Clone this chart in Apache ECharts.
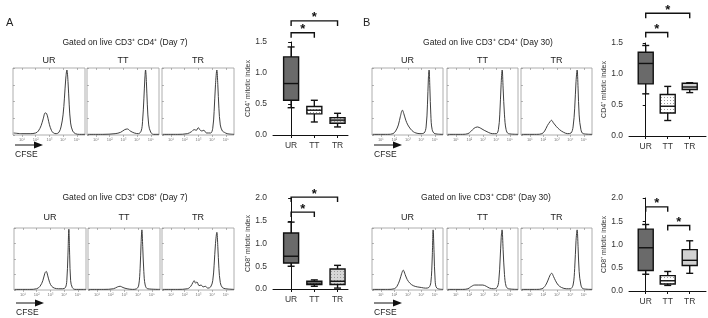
<!DOCTYPE html>
<html>
<head>
<meta charset="utf-8">
<script src="https://cdn.jsdelivr.net/npm/echarts@6/dist/echarts.min.js"></script>
<style>
  html, body { margin: 0; background: #fff; }
  #chart { width: 708px; height: 318px; }
</style>
</head>
<body>
<div id="chart"></div>
<script>
const groups = ['UR', 'TT', 'TR']
const xTicks = [1, 2, 3, 4, 5]

// CFSE histograms: [log10 intensity, % of max]
const d7cd4UR = [[0.4,3],[1.0,2],[1.6,2],[2.0,3],[2.2,6],[2.4,14],[2.55,24],[2.7,33],[2.8,32],[2.9,25],[3.0,16],[3.15,7],[3.3,3],[3.5,2],[3.7,4],[3.85,12],[4.0,30],[4.1,55],[4.2,85],[4.28,97],[4.36,80],[4.45,45],[4.55,18],[4.7,6],[4.9,2],[5.2,1],[5.6,1]]
const d7cd4TT = [[0.4,1],[1.5,1],[2.4,2],[2.8,4],[3.1,8],[3.3,9],[3.5,6],[3.8,3],[4.1,2],[4.3,6],[4.4,20],[4.5,55],[4.57,85],[4.62,97],[4.68,80],[4.75,45],[4.85,15],[5.0,4],[5.2,1],[5.6,1]]
const d7cd4TR = [[0.4,1],[1.5,1],[2.2,2],[2.5,5],[2.7,8],[2.85,7],[3.0,11],[3.1,8],[3.25,6],[3.4,7],[3.6,3],[3.9,3],[4.05,10],[4.15,35],[4.25,75],[4.35,97],[4.42,75],[4.5,40],[4.6,15],[4.75,6],[4.9,4],[5.1,2],[5.6,1]]

const d30cd4UR = [[0.4,1],[1.5,1],[1.9,2],[2.1,6],[2.3,15],[2.45,28],[2.6,37],[2.7,32],[2.85,22],[3.0,15],[3.2,9],[3.4,5],[3.6,3],[3.9,2],[4.2,3],[4.35,12],[4.45,45],[4.52,85],[4.57,97],[4.63,70],[4.7,30],[4.8,8],[5.0,2],[5.6,1]]
const d30cd4TT = [[0.4,1],[1.5,1],[1.9,2],[2.1,5],[2.35,10],[2.6,12],[2.85,10],[3.1,7],[3.4,4],[3.7,2],[4.0,2],[4.15,8],[4.25,30],[4.35,75],[4.43,97],[4.5,70],[4.6,30],[4.72,8],[4.9,2],[5.6,1]]
const d30cd4TR = [[0.4,1],[1.5,1],[1.9,2],[2.1,6],[2.3,14],[2.5,20],[2.6,22],[2.75,18],[2.95,13],[3.2,8],[3.5,4],[3.8,2],[4.05,3],[4.2,12],[4.32,40],[4.42,80],[4.5,97],[4.57,70],[4.65,30],[4.78,8],[4.95,2],[5.6,1]]

const d7cd8UR = [[0.4,1],[1.5,1],[2.0,2],[2.25,6],[2.45,15],[2.6,27],[2.7,30],[2.8,24],[2.95,12],[3.1,6],[3.3,3],[3.6,2],[3.9,2],[4.1,4],[4.2,15],[4.28,55],[4.35,98],[4.41,55],[4.48,15],[4.6,4],[4.8,1],[5.6,1]]
const d7cd8TT = [[0.4,1],[1.5,1],[2.2,2],[2.5,5],[2.7,6],[2.9,4],[3.2,2],[3.6,1],[3.9,2],[4.05,8],[4.15,35],[4.22,75],[4.28,97],[4.34,70],[4.42,30],[4.52,8],[4.7,2],[5.6,1]]
const d7cd8TR = [[0.4,1],[1.5,1],[2.2,2],[2.45,6],[2.6,12],[2.7,15],[2.8,11],[2.9,13],[3.05,7],[3.2,8],[3.35,5],[3.5,6],[3.7,3],[3.9,5],[4.05,15],[4.15,40],[4.25,75],[4.35,93],[4.42,70],[4.5,35],[4.6,12],[4.75,4],[5.0,2],[5.6,1]]

const d30cd8UR = [[0.4,1],[1.5,1],[2.0,2],[2.2,6],[2.4,16],[2.55,27],[2.66,32],[2.8,25],[2.95,17],[3.15,11],[3.4,7],[3.7,5],[4.0,4],[4.3,3],[4.55,4],[4.7,12],[4.8,50],[4.87,97],[4.94,60],[5.02,15],[5.15,3],[5.6,1]]
const d30cd8TT = [[0.4,1],[1.5,1],[1.9,2],[2.1,5],[2.4,8],[2.7,8],[3.0,8],[3.25,6],[3.5,3],[3.8,2],[4.05,4],[4.18,15],[4.28,50],[4.36,85],[4.42,97],[4.5,65],[4.6,25],[4.72,6],[4.9,2],[5.6,1]]
const d30cd8TR = [[0.4,1],[1.5,1],[1.9,2],[2.15,7],[2.35,16],[2.5,24],[2.62,27],[2.75,22],[2.9,15],[3.1,8],[3.35,4],[3.7,2],[4.0,2],[4.2,8],[4.32,35],[4.42,80],[4.5,97],[4.57,70],[4.65,30],[4.78,8],[4.95,2],[5.6,1]]

// mitotic index boxes: [min, Q1, median, Q3, max] for UR, TT, TR
const d7cd4Box = [[0.44,0.56,0.83,1.26,1.42],[0.21,0.34,0.40,0.46,0.56],[0.13,0.19,0.24,0.28,0.35]]
const d30cd4Box = [[0.68,0.84,1.17,1.35,1.46],[0.25,0.37,0.48,0.67,0.80],[0.70,0.75,0.79,0.85,0.86]]
const d7cd8Box = [[0.50,0.57,0.72,1.23,1.47],[0.06,0.10,0.13,0.17,0.20],[0.02,0.10,0.17,0.44,0.52]]
const d30cd8Box = [[0.36,0.44,0.93,1.33,1.43],[0.12,0.15,0.22,0.33,0.42],[0.38,0.55,0.66,0.89,1.08]]

// significance brackets: [from group, to group, height]
const d7cd4Sig = [[0,1,1.65],[0,2,1.84]]
const d30cd4Sig = [[0,1,1.67],[0,2,1.98]]
const d7cd8Sig = [[0,1,1.69],[0,2,2.02]]
const d30cd8Sig = [[0,1,1.81],[1,2,1.41]]

const font = 'Liberation Sans, Arial, sans-serif'
const sup = ['⁰','¹','²','³','⁴','⁵']

function dots(bg, dot) {
  const c = document.createElement('canvas')
  c.width = 3; c.height = 3
  const ctx = c.getContext('2d')
  ctx.fillStyle = bg; ctx.fillRect(0, 0, 3, 3)
  ctx.fillStyle = dot; ctx.fillRect(1, 1, 1, 1)
  return { image: c, repeat: 'repeat' }
}
const darkFill = '#6a6a6a'
const ttFill = dots('#ffffff', '#9a9a9a')
const trFill = dots('#d6d6d6', '#9a9a9a')

const panels = [
  { title: 'Gated on live CD3⁺ CD4⁺ (Day 7)', titleX: 125, titleY: 43, labelY: 61,
    hists: [d7cd4UR, d7cd4TT, d7cd4TR], lefts: [13, 87, 162], hw: 72, top: 68, height: 67,
    box: d7cd4Box, sig: d7cd4Sig, fills: [darkFill, ttFill, trFill],
    bg: { left: 273, top: 42, width: 75, height: 93 }, ymax: 1.5, xr: [-0.78, 2.45], yname: 'CD4⁺ mitotic index', arrowY: 145 },
  { title: 'Gated on live CD3⁺ CD4⁺ (Day 30)', titleX: 488, titleY: 43, labelY: 61,
    hists: [d30cd4UR, d30cd4TT, d30cd4TR], lefts: [372, 447, 521], hw: 71, top: 68, height: 67,
    box: d30cd4Box, sig: d30cd4Sig, fills: [darkFill, ttFill, '#d2d2d2'],
    bg: { left: 629, top: 43, width: 77, height: 93 }, ymax: 1.5, xr: [-0.76, 2.74], yname: 'CD4⁺ mitotic index', arrowY: 145 },
  { title: 'Gated on live CD3⁺ CD8⁺ (Day 7)', titleX: 125, titleY: 198, labelY: 218,
    hists: [d7cd8UR, d7cd8TT, d7cd8TR], lefts: [14, 88, 162], hw: 72, top: 228, height: 62,
    box: d7cd8Box, sig: d7cd8Sig, fills: [darkFill, ttFill, trFill],
    bg: { left: 273, top: 198, width: 75, height: 91 }, ymax: 2, xr: [-0.78, 2.45], yname: 'CD8⁺ mitotic index', arrowY: 303 },
  { title: 'Gated on live CD3⁺ CD8⁺ (Day 30)', titleX: 486, titleY: 198, labelY: 218,
    hists: [d30cd8UR, d30cd8TT, d30cd8TR], lefts: [372, 447, 521], hw: 71, top: 228, height: 62,
    box: d30cd8Box, sig: d30cd8Sig, fills: [darkFill, ttFill, '#d2d2d2'],
    bg: { left: 629, top: 198, width: 77, height: 93 }, ymax: 2, xr: [-0.76, 2.74], yname: 'CD8⁺ mitotic index', arrowY: 303 }
]

const grid = [], xAxis = [], yAxis = [], series = [], graphic = []

function addText(text, x, y, size, extra) {
  graphic.push({ type: 'text', x: x, y: y, silent: true,
    style: Object.assign({ text: text, font: size + 'px ' + font, fill: '#222', textAlign: 'center', textVerticalAlign: 'middle' }, extra || {}) })
}

addText('A', 6, 23, 11, { textAlign: 'left' })
addText('B', 363, 23, 11, { textAlign: 'left' })

panels.forEach((p) => {
  addText(p.title, p.titleX, p.titleY, 8.5)
  const left0 = p.lefts[0]
  // CFSE arrow
  graphic.push({ type: 'line', silent: true, shape: { x1: left0 + 2, y1: p.arrowY, x2: left0 + 23, y2: p.arrowY }, style: { stroke: '#111', lineWidth: 1 } })
  graphic.push({ type: 'polygon', silent: true, shape: { points: [[left0 + 21, p.arrowY - 3.5], [left0 + 30, p.arrowY], [left0 + 21, p.arrowY + 3.5]] }, style: { fill: '#111' } })
  addText('CFSE', left0 + 2, p.arrowY + 10, 8.5, { textAlign: 'left' })

  // histograms
  p.hists.forEach((h, i) => {
    const g = grid.length
    grid.push({ left: p.lefts[i], top: p.top, width: p.hw, height: p.height, show: true, borderColor: '#9a9a9a', borderWidth: 0.8 })
    addText(groups[i], p.lefts[i] + p.hw / 2, p.labelY, 9)
    xAxis.push({ gridIndex: g, type: 'value', min: 0.35, max: 5.6, splitLine: { show: false },
      axisLine: { show: false },
      axisTick: { customValues: xTicks, length: 2, lineStyle: { color: '#888', width: 0.6 } },
      axisLabel: { customValues: xTicks, fontSize: 4, color: '#777', margin: 3, formatter: (v) => '10' + sup[Math.round(v)] } })
    xAxis.push({ gridIndex: g, type: 'value', position: 'top', min: 0.35, max: 5.6, splitLine: { show: false },
      axisLine: { show: false }, axisLabel: { show: false },
      axisTick: { customValues: xTicks, inside: true, length: 2, lineStyle: { color: '#888', width: 0.6 } } })
    yAxis.push({ gridIndex: g, type: 'value', min: 0, max: 100, interval: 25, splitLine: { show: false },
      axisLine: { show: false }, axisLabel: { show: false },
      axisTick: { inside: true, length: 2, lineStyle: { color: '#888', width: 0.6 } } })
    series.push({ type: 'line', xAxisIndex: xAxis.length - 2, yAxisIndex: yAxis.length - 1, data: h,
      smooth: 0.35, symbol: 'none', silent: true, lineStyle: { color: '#2a2a2a', width: 0.9 } })
  })

  // box plot panel
  const g = grid.length
  grid.push(Object.assign({ show: false }, p.bg))
  xAxis.push({ gridIndex: g, type: 'value', min: p.xr[0], max: p.xr[1], splitLine: { show: false },
    axisLine: { lineStyle: { color: '#111', width: 1 } },
    axisTick: { customValues: [0, 1, 2], length: 3, lineStyle: { color: '#111' } },
    axisLabel: { customValues: [0, 1, 2], fontSize: 8.5, color: '#333', fontFamily: font, margin: 6, formatter: (v) => groups[Math.round(v)] } })
  yAxis.push({ gridIndex: g, type: 'value', min: 0, max: p.ymax, interval: 0.5, splitLine: { show: false },
    name: p.yname, nameLocation: 'middle', nameGap: 20, nameTextStyle: { fontSize: 7, color: '#333', fontFamily: font },
    axisLine: { show: true, lineStyle: { color: '#111', width: 1 } },
    axisTick: { show: true, length: 3, lineStyle: { color: '#111' } },
    axisLabel: { fontSize: 8.5, color: '#333', fontFamily: font, margin: 6, formatter: (v) => v.toFixed(1) } })
  const xi = xAxis.length - 1, yi = yAxis.length - 1
  const fills = p.fills
  series.push({
    type: 'custom', xAxisIndex: xi, yAxisIndex: yi, silent: true,
    data: p.box.map((b, i) => [i].concat(b)),
    encode: { x: 0, y: [1, 2, 3, 4, 5] },
    renderItem: (params, api) => {
      const x = api.value(0)
      const pt = [1, 2, 3, 4, 5].map((k) => api.coord([x, api.value(k)]))
      const cx = pt[0][0], hw = 7.5, cw = 3.5
      const ln = (x1, y1, x2, y2) => ({ type: 'line', shape: { x1, y1, x2, y2 }, style: { stroke: '#111', lineWidth: 1.4 } })
      return { type: 'group', children: [
        ln(cx, pt[0][1], cx, pt[1][1]),
        ln(cx, pt[3][1], cx, pt[4][1]),
        ln(cx - cw, pt[0][1], cx + cw, pt[0][1]),
        ln(cx - cw, pt[4][1], cx + cw, pt[4][1]),
        { type: 'rect', shape: { x: cx - hw, y: pt[3][1], width: 2 * hw, height: pt[1][1] - pt[3][1] },
          style: { fill: fills[params.dataIndex], stroke: '#111', lineWidth: 1.4 } },
        ln(cx - hw, pt[2][1], cx + hw, pt[2][1])
      ] }
    }
  })
  series.push({
    type: 'custom', xAxisIndex: xi, yAxisIndex: yi, silent: true, clip: false,
    data: p.sig,
    encode: { x: [0, 1], y: 2 },
    renderItem: (params, api) => {
      const a = api.coord([api.value(0), api.value(2)])
      const b = api.coord([api.value(1), api.value(2)])
      return { type: 'group', children: [
        { type: 'polyline', shape: { points: [[a[0], a[1] + 5], a, b, [b[0], b[1] + 5]] },
          style: { stroke: '#111', lineWidth: 1.4, fill: null } },
        { type: 'text', x: (a[0] + b[0]) / 2, y: a[1] - 3,
          style: { text: '*', font: 'bold 13px ' + font, fill: '#111', textAlign: 'center', textVerticalAlign: 'middle' } }
      ] }
    }
  })
})

const chart = echarts.init(document.getElementById('chart'))
chart.setOption({
  animation: false,
  grid: grid,
  xAxis: xAxis,
  yAxis: yAxis,
  series: series,
  graphic: graphic
})
</script>
</body>
</html>
